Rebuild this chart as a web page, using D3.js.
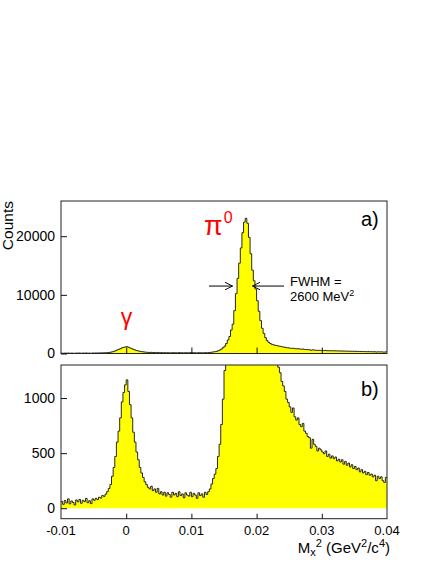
<!DOCTYPE html>
<html>
<head>
<meta charset="utf-8">
<script src="https://cdn.jsdelivr.net/npm/d3@7"></script>
<style>
  html, body { margin: 0; padding: 0; background: #fff; }
  svg { display: block; }
  text { font-family: "Liberation Sans", Arial, Helvetica, sans-serif; fill: #000; }
</style>
</head>
<body>
<script>
// ---- data ----
const binStart = -0.01;
const binWidth = 0.00025;
const counts = [
  62, 35, 70, 48, 85, 40, 66, 52, 30, 75,
  58, 80, 45, 72, 60, 90, 50, 68, 42, 85,
  72, 90, 78, 100, 92, 115, 108, 128, 150, 178,
  215, 290, 370, 470, 600, 700, 820, 965, 1050, 1120,
  1165, 1060, 940, 820, 690, 600, 510, 440, 370, 320,
  280, 240, 215, 190, 175, 200, 160, 175, 145, 180,
  130, 150, 120, 145, 110, 140, 125, 100, 145, 120,
  135, 105, 150, 115, 130, 95, 140, 120, 110, 145,
  105, 135, 120, 90, 140, 115, 130, 100, 145, 125,
  150, 175, 220, 270, 310, 360, 470, 580, 760, 990,
  1250, 1700, 2300, 2900, 4000, 5000, 7300, 10200, 12800, 15400,
  18000, 20600, 22400, 23050, 22200, 19800, 17000, 14200, 12400, 11000,
  9000, 7200, 5600, 4300, 3400, 2700, 2200, 1900, 1700, 1560,
  1470, 1400, 1340, 1280, 1230, 1150, 1110, 1060, 990, 960,
  920, 870, 910, 830, 800, 820, 760, 740, 770, 700,
  680, 650, 640, 545, 625, 580, 560, 520, 545, 530,
  510, 495, 520, 470, 490, 455, 475, 450, 465, 430,
  445, 420, 440, 400, 425, 390, 410, 375, 395, 360,
  380, 350, 365, 330, 350, 320, 335, 305, 325, 300,
  310, 285, 300, 250, 290, 270, 285, 250, 235, 280
];
const xDomain = [-0.01, 0.04];
const xTicks = [-0.01, 0, 0.01, 0.02, 0.03, 0.04];
const xTickLabels = ["-0.01", "0", "0.01", "0.02", "0.03", "0.04"];
const topDomain = [0, 26000];
const topTicks = [0, 10000, 20000];
const botDomain = [-95, 1300];
const botTicks = [0, 500, 1000];
const fwhmValue = "2600";

// ---- layout ----
const W = 436, H = 564;
const L = 61, R = 387;
const topY0 = 201, topY1 = 353.5;
const botY0 = 365, botY1 = 518.7;

const svg = d3.select("body").append("svg").attr("width", W).attr("height", H);

const x = d3.scaleLinear().domain(xDomain).range([L, R]);
const yTop = d3.scaleLinear().domain(topDomain).range([topY1, topY0]);
const yBot = d3.scaleLinear().domain(botDomain).range([botY1, botY0]);

// step points
const pts = counts.map((c, i) => [binStart + i * binWidth, c]);
pts.push([binStart + counts.length * binWidth, counts[counts.length - 1]]);

function drawPanel(y, y0px, y1px, ticks, id, tickLen) {
  const defs = svg.append("defs");
  defs.append("clipPath").attr("id", id).append("rect")
    .attr("x", L).attr("y", y0px).attr("width", R - L).attr("height", y1px - y0px);
  const g = svg.append("g").attr("clip-path", `url(#${id})`);
  const area = d3.area().curve(d3.curveStepAfter)
    .x(d => x(d[0])).y0(y(0)).y1(d => y(d[1]));
  g.append("path").datum(pts).attr("d", area).attr("fill", "#ffff00").attr("stroke", "none");
  const line = d3.line().curve(d3.curveStepAfter).x(d => x(d[0])).y(d => y(d[1]));
  g.append("path").datum(pts).attr("d", line)
    .attr("fill", "none").attr("stroke", "#111").attr("stroke-width", 0.9);

  // frame
  svg.append("rect").attr("x", L).attr("y", y0px).attr("width", R - L).attr("height", y1px - y0px)
    .attr("fill", "none").attr("stroke", "#222").attr("stroke-width", 1);

  // y axis (ticks inside)
  const ya = d3.axisLeft(y).tickValues(ticks).tickSize(-6).tickPadding(6)
    .tickFormat(d3.format("d"));
  const yg = svg.append("g").attr("transform", `translate(${L},0)`).call(ya);
  yg.select(".domain").remove();
  yg.selectAll("text").style("font-size", "14px")
    .style("font-family", '"Liberation Sans", Arial, sans-serif');
  yg.selectAll("line").attr("stroke", "#111");

  // x ticks (inside)
  const xa = d3.axisBottom(x).tickValues(xTicks.slice(1, -1)).tickSize(-tickLen).tickFormat("");
  const xg = svg.append("g").attr("transform", `translate(0,${y1px})`).call(xa);
  xg.select(".domain").remove();
  xg.selectAll("line").attr("stroke", "#111");
  return xg;
}

drawPanel(yTop, topY0, topY1, topTicks, "clipTop", 6);
drawPanel(yBot, botY0, botY1, botTicks, "clipBot", 5);

// x tick labels
svg.append("g").selectAll("text").data(xTicks).join("text")
  .attr("x", d => x(d)).attr("y", 535)
  .attr("text-anchor", "middle").style("font-size", "13px")
  .text((d, i) => xTickLabels[i]);

// x axis title
const xt = svg.append("text").attr("x", R + 3).attr("y", 553).attr("text-anchor", "end")
  .style("font-size", "15px");
xt.append("tspan").text("M");
xt.append("tspan").attr("dy", 3).style("font-size", "11px").text("x");
xt.append("tspan").attr("dy", -9).style("font-size", "11px").text("2");
xt.append("tspan").attr("dy", 6).text(" (GeV");
xt.append("tspan").attr("dy", -6).style("font-size", "11px").text("2");
xt.append("tspan").attr("dy", 6).text("/c");
xt.append("tspan").attr("dy", -6).style("font-size", "11px").text("4");
xt.append("tspan").attr("dy", 6).text(")");

// y axis title
svg.append("text").attr("transform", `translate(13,${topY0}) rotate(-90)`)
  .attr("text-anchor", "end").style("font-size", "15.5px").text("Counts");

// panel labels
svg.append("text").attr("x", 361).attr("y", 226).style("font-size", "20px").text("a)");
svg.append("text").attr("x", 361).attr("y", 396).style("font-size", "20px").text("b)");

// peak labels
const pi = svg.append("text").attr("x", 204).attr("y", 235)
  .style("fill", "#ff0000").style("font-size", "27px");
pi.append("tspan").text("π");
pi.append("tspan").attr("dx", 1).attr("dy", -12).style("font-size", "16px").text("0");

svg.append("text").attr("x", 126.5).attr("y", 325).attr("text-anchor", "middle")
  .style("fill", "#ff0000").style("font-size", "23px").text("γ");

// FWHM arrows
const arrowY = yTop(11500);
const fwL = 0.01631, fwR = 0.01937;
const defs2 = svg.append("defs");
defs2.append("marker").attr("id", "arr").attr("viewBox", "0 0 10 10")
  .attr("refX", 10).attr("refY", 5).attr("markerWidth", 8).attr("markerHeight", 8)
  .attr("markerUnits", "userSpaceOnUse").attr("orient", "auto")
  .append("path").attr("d", "M0,0 L10,5 L0,10").attr("fill", "none").attr("stroke", "#000").attr("stroke-width", 1.2);
svg.append("line").attr("x1", 209).attr("x2", x(fwL)).attr("y1", arrowY).attr("y2", arrowY)
  .attr("stroke", "#000").attr("stroke-width", 1).attr("marker-end", "url(#arr)");
svg.append("line").attr("x1", 284).attr("x2", x(fwR)).attr("y1", arrowY).attr("y2", arrowY)
  .attr("stroke", "#000").attr("stroke-width", 1).attr("marker-end", "url(#arr)");

svg.append("text").attr("x", 290).attr("y", 285.5).style("font-size", "13px").text("FWHM =");
const fw2 = svg.append("text").attr("x", 290).attr("y", 300.5).style("font-size", "13px");
fw2.append("tspan").text(fwhmValue + " MeV");
fw2.append("tspan").attr("dy", -5).style("font-size", "9px").text("2");
</script>
</body>
</html>
